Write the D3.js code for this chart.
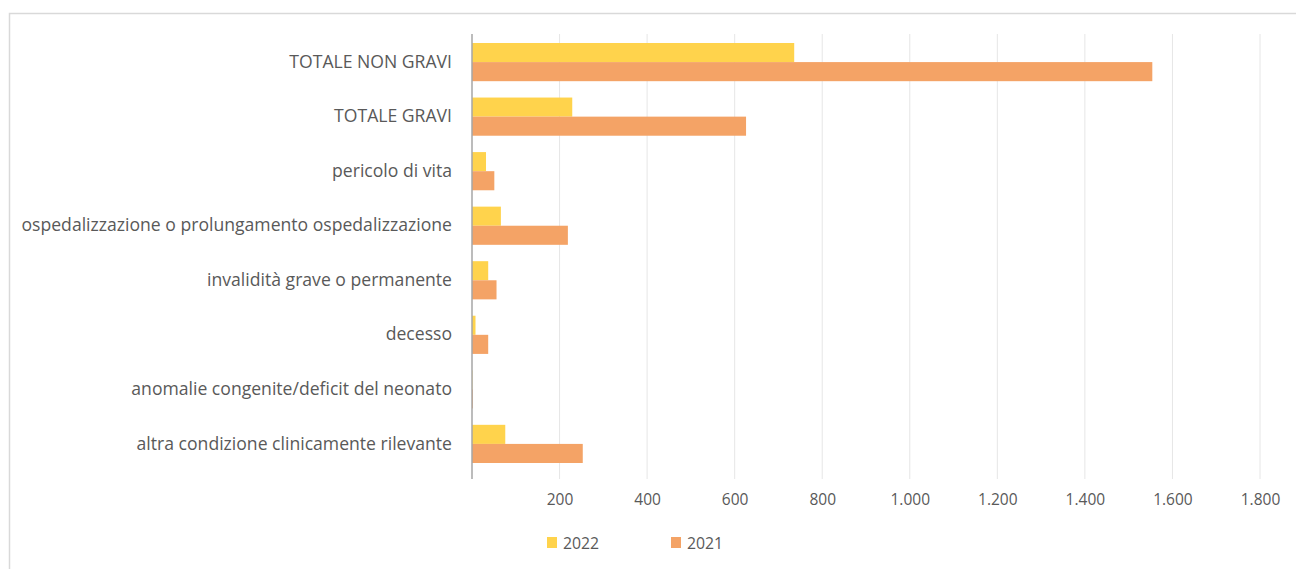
<!DOCTYPE html>
<html>
<head>
<meta charset="utf-8">
<script src="https://cdn.jsdelivr.net/npm/d3@7"></script>
<style>
  html, body { margin: 0; padding: 0; background: #fff; }
  svg { display: block; }
  text { font-family: "Open Sans", Lato, sans-serif; fill: #595959; }
</style>
</head>
<body>
<svg id="chart" width="1296" height="569"></svg>
<script>
// Reazioni avverse per gravità, confronto 2022 / 2021
const categories = [
  "TOTALE NON GRAVI",
  "TOTALE GRAVI",
  "pericolo di vita",
  "ospedalizzazione o prolungamento ospedalizzazione",
  "invalidità grave o permanente",
  "decesso",
  "anomalie congenite/deficit del neonato",
  "altra condizione clinicamente rilevante"
];
const values2022 = [736, 229, 32, 66, 37, 8, 1, 76];
const values2021 = [1554, 626, 51, 219, 56, 37, 2, 253];
const seriesNames = ["2022", "2021"];
const seriesColors = ["#FFD34C", "#F4A366"];
const tickValues = [200, 400, 600, 800, 1000, 1200, 1400, 1600, 1800];

const svg = d3.select("#chart");

// Chart frame
svg.append("rect")
  .attr("x", 9.5).attr("y", 13.5)
  .attr("width", 1300).attr("height", 600)
  .attr("fill", "none").attr("stroke", "#d9d9d9").attr("stroke-width", 1.5);

const x = d3.scaleLinear().domain([0, 1800]).range([472, 1260]);
const y = d3.scaleBand().domain(categories).range([34, 472])
  .paddingInner(0.3).paddingOuter(0.165);
const sub = d3.scaleBand().domain(seriesNames).range([0, y.bandwidth()]);

const fmt = v => d3.format(",")(v).replace(/,/g, ".");

// Vertical gridlines
svg.append("g").selectAll("line").data(tickValues).join("line")
  .attr("x1", d => x(d)).attr("x2", d => x(d))
  .attr("y1", 34).attr("y2", 479)
  .attr("stroke", "#e6e6e6").attr("stroke-width", 1);

// Bars
const series = [values2022, values2021];
series.forEach((vals, si) => {
  svg.append("g").selectAll("rect").data(categories).join("rect")
    .attr("x", x(0))
    .attr("y", d => y(d) + sub(seriesNames[si]))
    .attr("width", (d, i) => x(vals[i]) - x(0))
    .attr("height", sub.bandwidth())
    .attr("fill", seriesColors[si]);
});

// Category axis line
svg.append("line")
  .attr("x1", x(0)).attr("x2", x(0))
  .attr("y1", 34).attr("y2", 479)
  .attr("stroke", "#a6a6a6").attr("stroke-width", 1.5);

// Category labels
const yAxis = d3.axisLeft(y).tickSize(0).tickPadding(20);
const yg = svg.append("g").attr("transform", `translate(${x(0)},0)`).call(yAxis);
yg.select(".domain").remove();
yg.selectAll("text").style("font-size", "17.6px").attr("fill", "#555555");

// Value axis labels
const xAxis = d3.axisBottom(x).tickValues(tickValues).tickFormat(fmt).tickSize(0).tickPadding(0);
const xg = svg.append("g").attr("transform", "translate(0,494)").call(xAxis);
xg.select(".domain").remove();
xg.selectAll("text").style("font-size", "15.5px").attr("fill", "#555555");

// Legend
const legend = svg.append("g");
const legendX = [547, 671];
seriesNames.forEach((name, i) => {
  const g = legend.append("g").attr("transform", `translate(${legendX[i]},537)`);
  g.append("rect").attr("width", 10).attr("height", 11).attr("fill", seriesColors[i]);
  g.append("text").attr("x", 16).attr("y", 11.5).style("font-size", "15.8px").text(name);
});
</script>
</body>
</html>
